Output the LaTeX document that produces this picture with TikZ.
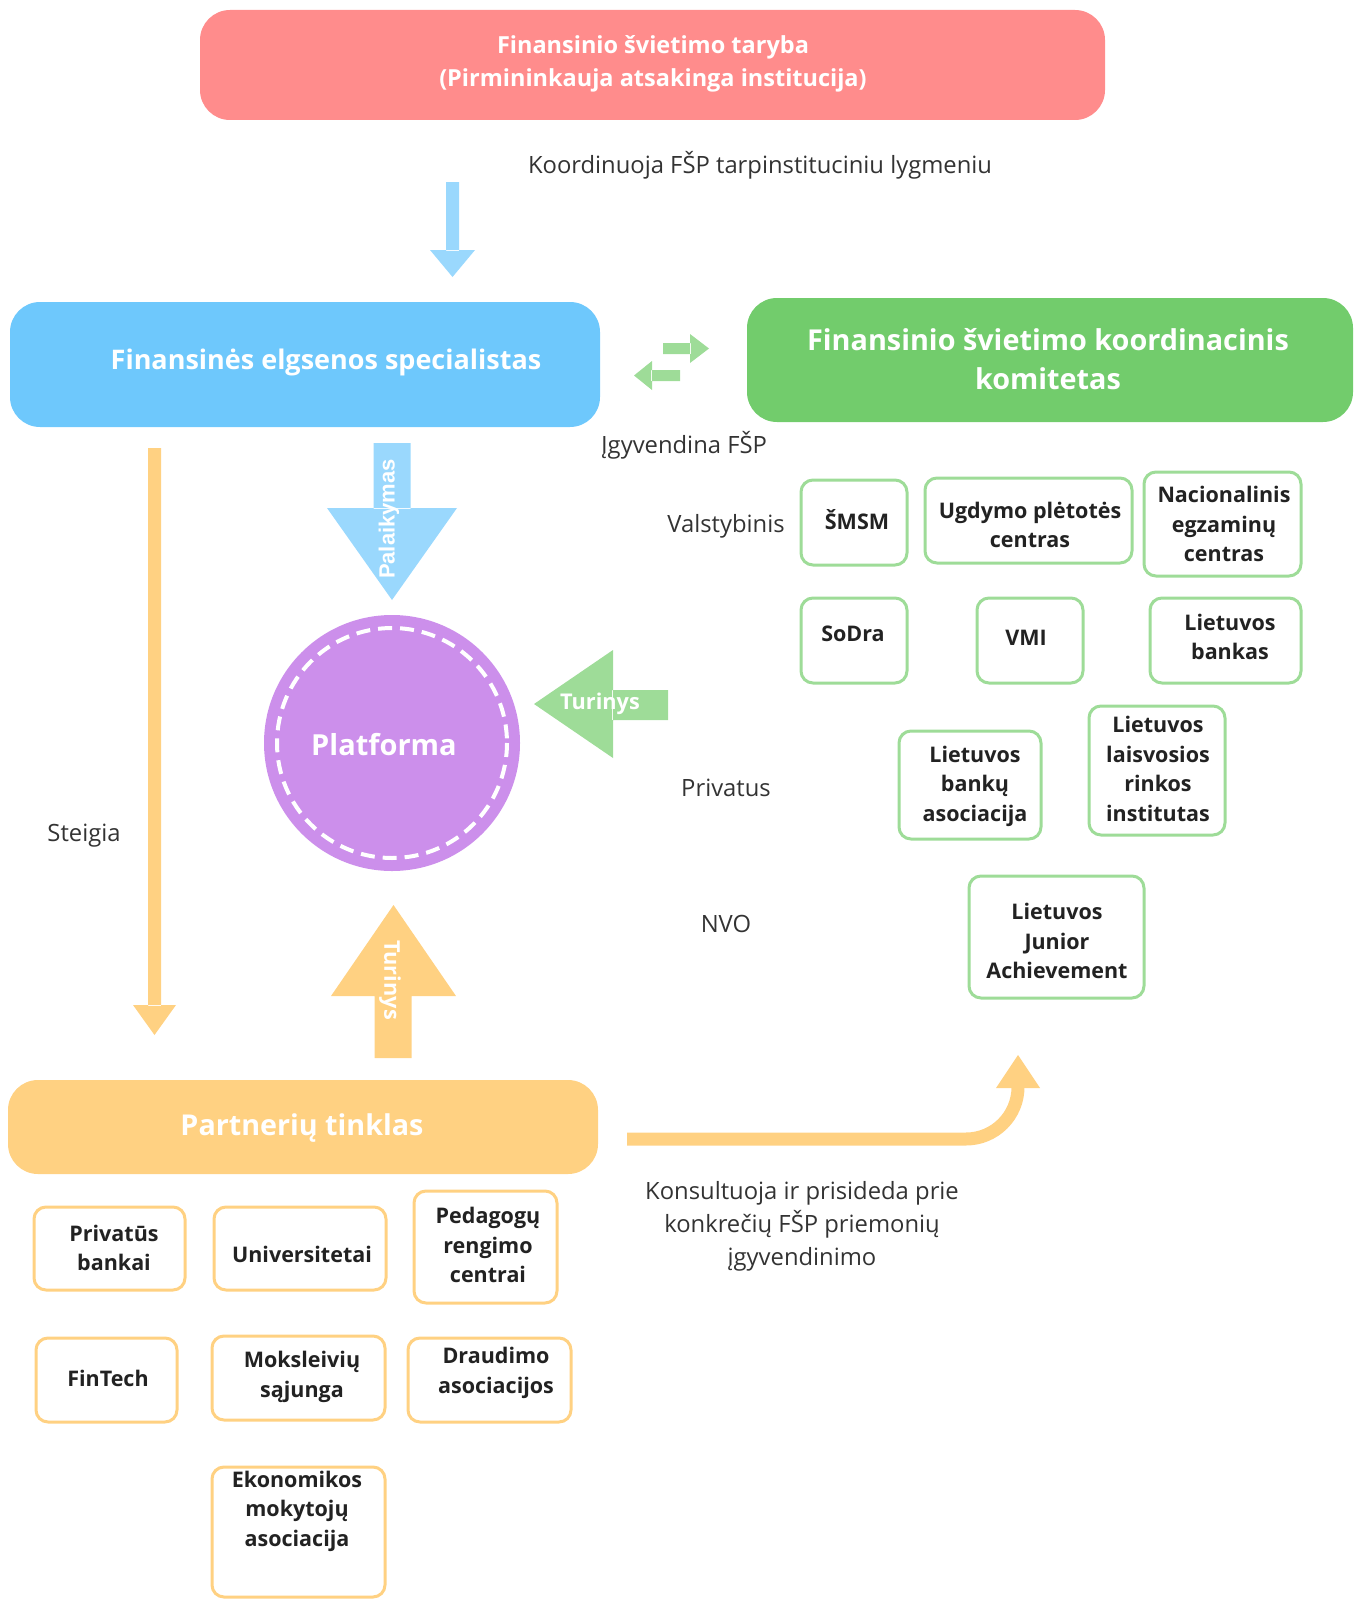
\documentclass[tikz,border=0pt]{standalone}
\usepackage{fontspec}
\setmainfont{Open Sans}
\newfontfamily\palfont{Liberation Sans}
\definecolor{redc}{HTML}{FF8C8C}
\definecolor{bluec}{HTML}{6EC8FC}
\definecolor{lblue}{HTML}{9AD8FD}
\definecolor{greenc}{HTML}{72CC6C}
\definecolor{lgreen}{HTML}{9EDC98}
\definecolor{orangec}{HTML}{FFD182}
\definecolor{purplec}{HTML}{CC8FEB}
\definecolor{txtc}{HTML}{333333}
\definecolor{boxtxt}{HTML}{222222}
\begin{document}
\begin{tikzpicture}[x=1pt,y=-1pt,
  bigbox/.style={rounded corners=30pt,inner sep=0pt},
  bigtxt/.style={text=white,font=\bfseries\fontsize{27}{38}\selectfont,align=center,inner sep=0pt},
  gbox/.style={draw=lgreen,line width=3pt,fill=white,rounded corners=12pt,inner sep=0pt},
  obox/.style={draw=orangec,line width=3pt,fill=white,rounded corners=12pt,inner sep=0pt},
  boxlbl/.style={text=boxtxt,font=\bfseries\fontsize{21.5}{29.5}\selectfont,align=center,inner sep=0pt},
  lbl/.style={text=txtc,font=\fontsize{23.8}{33}\selectfont,align=center,inner sep=0pt},
  arrtxt/.style={text=white,font=\bfseries\fontsize{21.7}{25}\selectfont,inner sep=0pt},
]
\useasboundingbox (0,0) rectangle (1353,1600);

% ---------- top council ----------
\node[bigbox,fill=redc,minimum width=905pt,minimum height=110pt] (tar) at (652.5,65) {};
\node[bigtxt,font=\bfseries\fontsize{23.5}{33}\selectfont] (tartxt) at (653,64) {Finansinio švietimo taryba\\(Pirmininkauja atsakinga institucija)};
\node[lbl] (koord) at (760,165) {Koordinuoja FŠP tarpinstituciniu lygmeniu};

% blue arrow down
\coordinate (a1e) at (452.5,277);
\fill[lblue] (446,182) rectangle (459,251) (430,250) -- (475,250) -- (a1e) -- cycle;

% ---------- specialist ----------
\node[bigbox,fill=bluec,minimum width=590pt,minimum height=125pt] (spec) at (305,364.5) {};
\node[bigtxt] (spectxt) at (326,362) {Finansinės elgsenos specialistas};

% ---------- committee ----------
\node[bigbox,fill=greenc,minimum width=606pt,minimum height=124pt] (kom) at (1050,360) {};
\node[bigtxt,font=\bfseries\fontsize{28.8}{39}\selectfont] (komtxt) at (1048,359) {Finansinio švietimo koordinacinis\\komitetas};

% double arrow
\fill[lgreen] (663,343) rectangle (691,354) (690,334) -- (709,348.5) -- (690,363) -- cycle;
\fill[lgreen] (680,370) rectangle (651,381) (652,361) -- (634,375.5) -- (652,390) -- cycle;

\node[lbl] (igyv) at (684,445) {Įgyvendina FŠP};

% ---------- Palaikymas arrow ----------
\coordinate (palTip) at (392,600);
\fill[lblue] (373.5,443) rectangle (410.5,509) (327,508) -- (457,508) -- (palTip) -- cycle;
\node[text=white,font=\palfont\bfseries\fontsize{22}{26}\selectfont,rotate=90,inner sep=0pt] (paltxt) at (389,519) {Palaikymas};

% ---------- Steigia arrow ----------
\coordinate (stTip) at (154.5,1035);
\fill[orangec] (148,448) rectangle (161,1006) (133,1005) -- (176,1005) -- (stTip) -- cycle;
\node[lbl] (steigia) at (84,836) {Steigia};

% ---------- Platforma ----------
\node[circle,fill=purplec,minimum size=256pt,inner sep=0pt] (plat) at (392,743) {};
\draw[white,line width=4pt,dash pattern=on 14pt off 8pt] (plat.center) circle[radius=115];
\node[text=white,font=\bfseries\fontsize{29}{34}\selectfont,inner sep=0pt] (plattxt) at (384,745) {Platforma};

% green Turinys arrow (left)
\coordinate (tgTip) at (534,704);
\fill[lgreen] (612,690) rectangle (668,720) (613,650) -- (613,758) -- (tgTip) -- cycle;
\node[arrtxt] (tgtxt) at (600,704) {Turinys};

% orange Turinys arrow (up)
\coordinate (toTip) at (393.5,905);
\fill[orangec] (374.5,995) rectangle (411.5,1058) (331,996) -- (456,996) -- (toTip) -- cycle;
\node[arrtxt,rotate=-90] (totxt) at (390,980) {Turinys};

% ---------- Partneriu tinklas ----------
\node[bigbox,fill=orangec,minimum width=590pt,minimum height=94pt] (part) at (303,1127) {};
\node[bigtxt,font=\bfseries\fontsize{28.7}{34}\selectfont] (parttxt) at (302,1128) {Partnerių tinklas};

% bent arrow
\coordinate (bStart) at (627,1139);
\coordinate (bTip) at (1018,1055);
\draw[orangec,line width=13pt,rounded corners=52pt] (bStart) -- (1018,1139) -- (1018,1086);
\fill[orangec] (996,1088) -- (1040,1088) -- (bTip) -- cycle;
\node[lbl] (kons) at (802,1226) {Konsultuoja ir prisideda prie\\konkrečių FŠP priemonių\\įgyvendinimo};

% ---------- category labels ----------
\node[lbl] (valst) at (726,526) {Valstybinis};
\node[lbl] (priv) at (726,788) {Privatus};
\node[lbl] (nvo) at (726,924) {NVO};

% ---------- state boxes ----------
\node[gbox,minimum width=106pt,minimum height=85pt] (smsm) at (854,522.5) {};
\node[boxlbl] (smsmt) at (857,520) {ŠMSM};
\node[gbox,minimum width=207pt,minimum height=85pt] (upc) at (1028.5,520.5) {};
\node[boxlbl] (upct) at (1030,525) {Ugdymo plėtotės\\centras};
\node[gbox,minimum width=157pt,minimum height=104pt] (nec) at (1222.5,524) {};
\node[boxlbl] (nect) at (1224,524) {Nacionalinis\\egzaminų\\centras};
\node[gbox,minimum width=106pt,minimum height=85pt] (sodra) at (854,640.5) {};
\node[boxlbl] (sodrat) at (853,634) {SoDra};
\node[gbox,minimum width=106pt,minimum height=85pt] (vmi) at (1030,640.5) {};
\node[boxlbl] (vmit) at (1026,638) {VMI};
\node[gbox,minimum width=151pt,minimum height=85pt] (lb) at (1225.5,640.5) {};
\node[boxlbl] (lbt) at (1230,637) {Lietuvos\\bankas};

% ---------- private ----------
\node[gbox,minimum width=142pt,minimum height=108pt] (lba) at (970,785) {};
\node[boxlbl] (lbat) at (975,786) {Lietuvos\\bankų\\asociacija};
\node[gbox,minimum width=136pt,minimum height=129pt] (llri) at (1157,770.5) {};
\node[boxlbl] (llrit) at (1158,769) {Lietuvos\\laisvosios\\rinkos\\institutas};

% ---------- NGO ----------
\node[gbox,minimum width=175pt,minimum height=122pt] (lja) at (1056.5,937) {};
\node[boxlbl] (ljat) at (1057,941) {Lietuvos\\Junior\\Achievement};

% ---------- partner boxes ----------
\node[obox,minimum width=151pt,minimum height=83pt] (pb) at (109.5,1248.5) {};
\node[boxlbl] (pbt) at (114,1248) {Privatūs\\bankai};
\node[obox,minimum width=172pt,minimum height=83pt] (uni) at (300,1248.5) {};
\node[boxlbl] (unit) at (302,1254) {Universitetai};
\node[obox,minimum width=143pt,minimum height=112pt] (prc) at (485.5,1247) {};
\node[boxlbl] (prct) at (488,1245) {Pedagogų\\rengimo\\centrai};
\node[obox,minimum width=141pt,minimum height=84pt] (fin) at (106.5,1380) {};
\node[boxlbl] (fint) at (108,1378) {FinTech};
\node[obox,minimum width=173pt,minimum height=84pt] (moks) at (298.5,1378) {};
\node[boxlbl] (mokst) at (302,1377) {Moksleivių\\sąjunga};
\node[obox,minimum width=163pt,minimum height=84pt] (drau) at (489.5,1380) {};
\node[boxlbl] (draut) at (496,1373) {Draudimo\\asociacijos};
\node[obox,minimum width=173pt,minimum height=130pt] (ekon) at (298.5,1532) {};
\node[boxlbl] (ekont) at (297,1511) {Ekonomikos\\mokytojų\\asociacija};
\end{tikzpicture}
\end{document}
